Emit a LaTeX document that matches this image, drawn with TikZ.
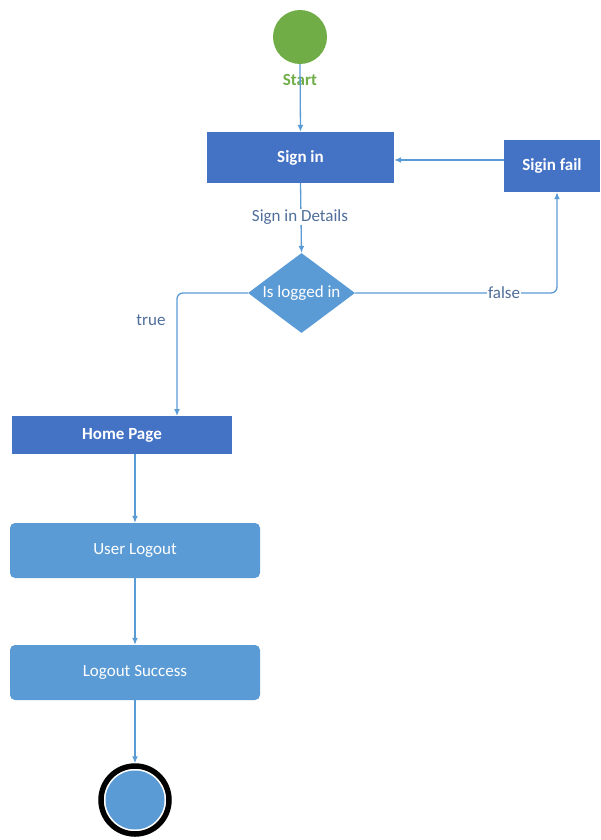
\documentclass[tikz,border=0pt]{standalone}
\usepackage{fontspec}
\setmainfont{Carlito}
\usetikzlibrary{shapes.geometric,arrows.meta}
\definecolor{dblue}{HTML}{4472C4}
\definecolor{lblue}{HTML}{5B9BD5}
\definecolor{sgreen}{HTML}{70AD47}
\definecolor{lbl}{HTML}{4F6E9A}
\newcommand{\myfs}{\fontsize{17}{20}\selectfont}
\tikzset{
  conn/.style={draw=lblue, line width=1.3pt, -{Latex[length=7pt,width=6pt]}},
  dbox/.style={draw=none, fill=dblue, text=white, font=\myfs\bfseries, inner sep=0pt},
  lbox/.style={draw=none, fill=lblue, text=white, rounded corners=5pt, font=\myfs, inner sep=0pt},
  elab/.style={fill=white, text=lbl, font=\myfs, inner sep=1pt},
}
\begin{document}
\begin{tikzpicture}[x=1pt,y=-1pt]
\useasboundingbox (0,0) rectangle (600,840);
% start
\node[circle, fill=sgreen, minimum size=54pt, inner sep=0pt] (start) at (300,37) {};
\node[text=sgreen, font=\myfs\bfseries, inner sep=0pt] (startlbl) at (300,80) {Start};
% boxes
\node[dbox, minimum width=187pt, minimum height=51pt] (signin) at (300.5,157.5) {Sign in};
\node[dbox, minimum width=96pt, minimum height=52pt] (fail) at (552,166) {Sigin fail};
\node[diamond, fill=lblue, inner sep=0pt, minimum width=107pt, minimum height=80pt] (dec) at (301.5,293) {};
\node[text=white, font=\myfs] (declbl) at (dec) {Is logged in};
\node[dbox, minimum width=220pt, minimum height=38pt] (home) at (122,435) {Home Page};
\node[lbox, minimum width=250pt, minimum height=55pt] (logout) at (135,550.5) {User Logout};
\node[lbox, minimum width=250pt, minimum height=55pt] (succ) at (135,672.5) {Logout Success};
% end
\node[circle, draw=black, line width=5.5pt, fill=white, minimum size=68pt, inner sep=0pt] (endc) at (135,800) {};
\node[circle, fill=lblue, minimum size=59pt, inner sep=0pt] (endin) at (135,800) {};
% helper coordinates
\coordinate (fw) at (504,160);
\coordinate (fcorner) at (557,293);
\coordinate (tcorner) at (177,293);
\coordinate (htop) at (177,416);
\coordinate (hbot) at (135,454);
% connectors
\draw[conn] (start.south) -- (signin.north);
\draw[conn] (signin.south) -- (dec.north);
\node[elab] (sdet) at (300,217) {Sign in Details};
\draw[conn] (fw) -- (signin.east |- fw);
\draw[conn, rounded corners=6pt] (dec.east) -- (fcorner) -- (fail.south -| fcorner);
\node[elab] (flbl) at (504,293) {false};
\draw[conn, rounded corners=6pt] (dec.west) -- (tcorner) -- (htop);
\node[text=lbl, font=\myfs] (tlbl) at (151,320) {true};
\draw[conn] (hbot) -- (logout.north);
\draw[conn] (logout.south) -- (succ.north);
\draw[conn] (succ.south) -- (endc.north);
\end{tikzpicture}
\end{document}
